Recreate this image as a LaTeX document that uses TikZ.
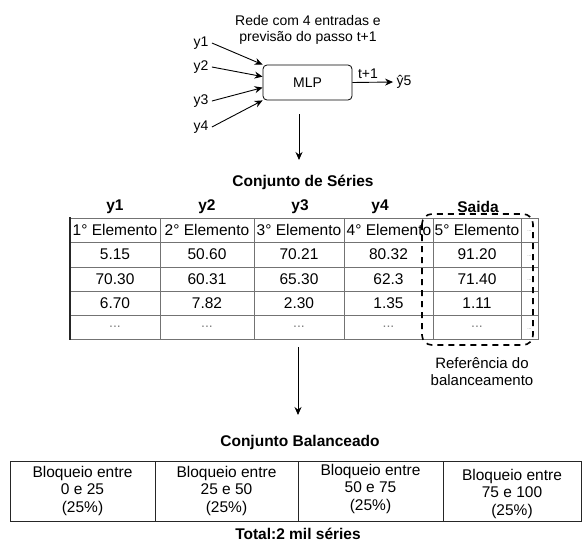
\documentclass[tikz,border=0pt]{standalone}
\usepackage{fontspec}
\setmainfont{Liberation Sans}
\usetikzlibrary{arrows.meta,calc}

\begin{document}
\begin{tikzpicture}[x=1pt,y=-1pt,font=\fontsize{14}{16.5}\selectfont,
  seta/.style={-{Stealth[length=8pt,width=7pt]},line width=0.9pt},
  titulo/.style={font=\fontsize{15.5}{18}\selectfont\bfseries},
  cel/.style={font=\fontsize{15.5}{18}\selectfont},
  bloco/.style={align=center,font=\fontsize{15.5}{17.5}\selectfont},
  grade/.style={draw=black!55,line width=0.8pt},
  ret/.style={draw=black!85,line width=1pt}]
\useasboundingbox (0,0) rectangle (584,544);
% rede MLP
\node[align=center] (rede) at (308,30) {Rede com 4 entradas e\\previsão do passo t+1};
\node[draw,rounded corners=4pt,line width=0.8pt,minimum width=89pt,minimum height=35pt] (mlp) at (307.5,82.5) {MLP};
\node (y1) at (201,43) {y1}; \node (y2) at (201,67) {y2}; \node (y3) at (201,101) {y3}; \node (y4) at (201,127) {y4};
\draw[seta] (y1.east) -- (mlp.north west);
\draw[seta] (y2.east) -- ($(mlp.north west)+(0,12)$);
\draw[seta] (y3.east) -- ($(mlp.north west)+(0,23)$);
\draw[seta] (y4.east) -- (mlp.south west);
\node (yhat) at (404,82) {ŷ5};
\draw[seta] (mlp.east) -- (yhat.west);
\node (passo) at (368,74) {t+1};
\coordinate (a1) at (299,114); \coordinate (b1) at (299,160);
\draw[seta] (a1) -- (b1);
% conjunto de series
\node[titulo] (series) at (303,182) {Conjunto de Séries};
\node[titulo] (h1) at (115,207) {y1}; \node[titulo] (h2) at (207,207) {y2}; \node[titulo] (h3) at (300,207) {y3};
\node[titulo] (h4) at (380,207) {y4}; \node[titulo] (h5) at (478,207) {Saida};
\draw[grade] (70,218) rectangle (538,339);
\draw[grade] (70,242)--(538,242); \draw[grade] (70,267)--(538,267); \draw[grade] (70,291)--(538,291); \draw[grade] (70,315)--(538,315);
\draw[grade] (160,218)--(160,339); \draw[grade] (254,218)--(254,339); \draw[grade] (344,218)--(344,339);
\draw[grade] (433,218)--(433,339); \draw[grade] (521,218)--(521,339);
\draw[black!85,line width=1.6pt] (70,217)--(70,340);
\node[cel] at (115,230) {1° Elemento}; \node[cel] at (207,230) {2° Elemento}; \node[cel] at (299,230) {3° Elemento}; \node[cel] at (389,230) {4° Elemento}; \node[cel] at (477,230) {5° Elemento};
\node[cel] at (115,254.5) {5.15}; \node[cel] at (207,254.5) {50.60}; \node[cel] at (299,254.5) {70.21}; \node[cel] at (388.5,254.5) {80.32}; \node[cel] at (477,254.5) {91.20};
\node[cel] at (115,279) {70.30}; \node[cel] at (207,279) {60.31}; \node[cel] at (299,279) {65.30}; \node[cel] at (388.5,279) {62.3}; \node[cel] at (477,279) {71.40};
\node[cel] at (115,303) {6.70}; \node[cel] at (207,303) {7.82}; \node[cel] at (299,303) {2.30}; \node[cel] at (388.5,303) {1.35}; \node[cel] at (477,303) {1.11};
\node[gray] at (115,327) {...}; \node[gray] at (207,327) {...}; \node[gray] at (299,327) {...}; \node[gray] at (388.5,327) {...}; \node[gray] at (477,327) {...};
\node[font=\tiny,gray] at (529.5,231) {...}; \node[font=\tiny,gray] at (529.5,256) {...}; \node[font=\tiny,gray] at (529.5,280) {...}; \node[font=\tiny,gray] at (529.5,329) {...};
% referencia do balanceamento
\draw[line width=1.6pt,dash pattern=on 6pt off 5pt,rounded corners=10pt] (422,214) rectangle (533,345);
\node[align=center,font=\fontsize{15}{17}\selectfont] (refer) at (482,372) {Referência do\\balanceamento};
\coordinate (a2) at (298,347); \coordinate (b2) at (298,415);
\draw[seta] (a2) -- (b2);
% conjunto balanceado
\node[titulo] (balanc) at (300,442) {Conjunto Balanceado};
\draw[ret] (10,461) rectangle (581,521);
\draw[ret] (155,461)--(155,521); \draw[ret] (298,461)--(298,521); \draw[ret] (443,461)--(443,521);
\node[bloco] (b1c) at (82.5,490.5) {Bloqueio entre\\0 e 25\\(25\%)};
\node[bloco] (b2c) at (226.5,490.5) {Bloqueio entre\\25 e 50\\(25\%)};
\node[bloco] (b3c) at (370.5,488.5) {Bloqueio entre\\50 e 75\\(25\%)};
\node[bloco] (b4c) at (512,493.5) {Bloqueio entre\\75 e 100\\(25\%)};
\node[titulo] (total) at (298,534) {Total:2 mil séries};
\end{tikzpicture}
\end{document}
